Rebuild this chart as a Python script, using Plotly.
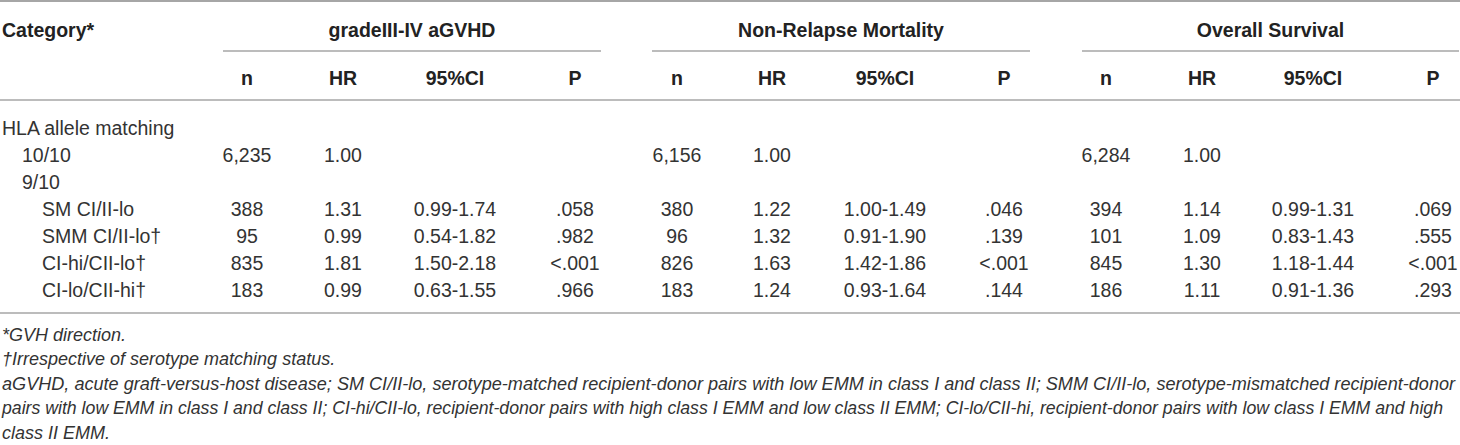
import plotly.graph_objects as go

# ---------------- data ----------------
categories = ["HLA allele matching", "10/10", "9/10", "SM CI/II-lo",
              "SMM CI/II-lo\u2020", "CI-hi/CII-lo\u2020", "CI-lo/CII-hi\u2020"]
indent_levels = [0, 1, 1, 2, 2, 2, 2]

group_titles = ["gradeIII-IV aGVHD", "Non-Relapse Mortality", "Overall Survival"]
sub_headers = ["n", "HR", "95%CI", "P"]

agvhd_n = ["", "6,235", "", "388", "95", "835", "183"]
agvhd_hr = ["", "1.00", "", "1.31", "0.99", "1.81", "0.99"]
agvhd_ci = ["", "", "", "0.99-1.74", "0.54-1.82", "1.50-2.18", "0.63-1.55"]
agvhd_p = ["", "", "", ".058", ".982", "<.001", ".966"]

nrm_n = ["", "6,156", "", "380", "96", "826", "183"]
nrm_hr = ["", "1.00", "", "1.22", "1.32", "1.63", "1.24"]
nrm_ci = ["", "", "", "1.00-1.49", "0.91-1.90", "1.42-1.86", "0.93-1.64"]
nrm_p = ["", "", "", ".046", ".139", "<.001", ".144"]

os_n = ["", "6,284", "", "394", "101", "845", "186"]
os_hr = ["", "1.00", "", "1.14", "1.09", "1.30", "1.11"]
os_ci = ["", "", "", "0.99-1.31", "0.83-1.43", "1.18-1.44", "0.91-1.36"]
os_p = ["", "", "", ".069", ".555", "<.001", ".293"]

footnotes = [
    "*GVH direction.",
    "\u2020Irrespective of serotype matching status.",
    "aGVHD, acute graft-versus-host disease; SM CI/II-lo, serotype-matched recipient-donor pairs with low EMM in class I and class II; SMM CI/II-lo, serotype-mismatched recipient-donor",
    "pairs with low EMM in class I and class II; CI-hi/CII-lo, recipient-donor pairs with high class I EMM and low class II EMM; CI-lo/CII-hi, recipient-donor pairs with low class I EMM and high",
    "class II EMM.",
]

# ---------------- layout constants ----------------
W, H = 1460, 445
FONT = "Liberation Sans"
BODY_SIZE = 19.5
FOOT_SIZES = [18, 18, 18.1, 17.7, 18]   # per line, so the two long lines fill the width
TXT = "#333333"
HDR = "#222222"
RULE = "#a6a6a6"

col_x = [[247, 343, 455, 575], [677, 772, 885, 1004], [1106, 1202, 1313, 1433]]
group_span = [(223, 601), (652, 1030), (1082, 1459)]
TY = 2  # vertical nudge of text
title_y, underline_y, sub_y, header_rule_y, top_rule_y = 30 + TY, 51, 78 + TY, 100, 1
row_y0, row_step = 128 + TY, 27
bottom_rule_y = 313
foot_y0, foot_step = 336, 24.5
cat_x0, indent_w = 2, 20

row_y = [row_y0 + i * row_step for i in range(len(categories))]
groups = [[agvhd_n, agvhd_hr, agvhd_ci, agvhd_p],
          [nrm_n, nrm_hr, nrm_ci, nrm_p],
          [os_n, os_hr, os_ci, os_p]]

fig = go.Figure()

def text_trace(xs, ys, texts, pos, size, color, weight="normal", style="normal"):
    fig.add_trace(go.Scatter(
        x=xs, y=ys, text=texts, mode="text", textposition=pos,
        textfont=dict(family=FONT, size=size, color=color, weight=weight, style=style),
        hoverinfo="skip", showlegend=False, cliponaxis=False))

# header
text_trace([cat_x0], [title_y], ["Category*"], "middle right", BODY_SIZE, HDR, "bold")
for (x0, x1), t in zip(group_span, group_titles):
    text_trace([(x0 + x1) / 2], [title_y], [t], "middle center", BODY_SIZE, HDR, "bold")
for cols in col_x:
    text_trace(cols, [sub_y] * 4, sub_headers, "middle center", BODY_SIZE, HDR, "bold")

# category column
text_trace([cat_x0 + indent_w * lv for lv in indent_levels], row_y, categories,
           "middle right", BODY_SIZE, TXT)

# value columns
for cols, series in zip(col_x, groups):
    for cx, vals in zip(cols, series):
        text_trace([cx] * len(vals), row_y, vals, "middle center", BODY_SIZE, TXT)

# footnotes
text_trace([cat_x0] * len(footnotes),
           [foot_y0 + i * foot_step for i in range(len(footnotes))],
           footnotes, "middle right", FOOT_SIZES, TXT, "normal", "italic")

# rules
shapes = []
def hline(x0, x1, y, w=1.5):
    shapes.append(dict(type="line", xref="x", yref="y", x0=x0, x1=x1, y0=y, y1=y,
                       line=dict(color=RULE, width=w)))
hline(0, W, top_rule_y, 2)
for x0, x1 in group_span:
    hline(x0, x1, underline_y)
hline(0, W, header_rule_y)
hline(0, W, bottom_rule_y)

fig.update_layout(
    width=W, height=H, autosize=False,
    margin=dict(l=0, r=0, t=0, b=0),
    paper_bgcolor="white", plot_bgcolor="white",
    xaxis=dict(range=[0, W], visible=False, fixedrange=True),
    yaxis=dict(range=[H, 0], visible=False, fixedrange=True),
    shapes=shapes,
)

fig.write_html("out.html", config={"displayModeBar": False},
               post_script="document.body.style.margin='0';document.body.style.overflow='hidden';")
